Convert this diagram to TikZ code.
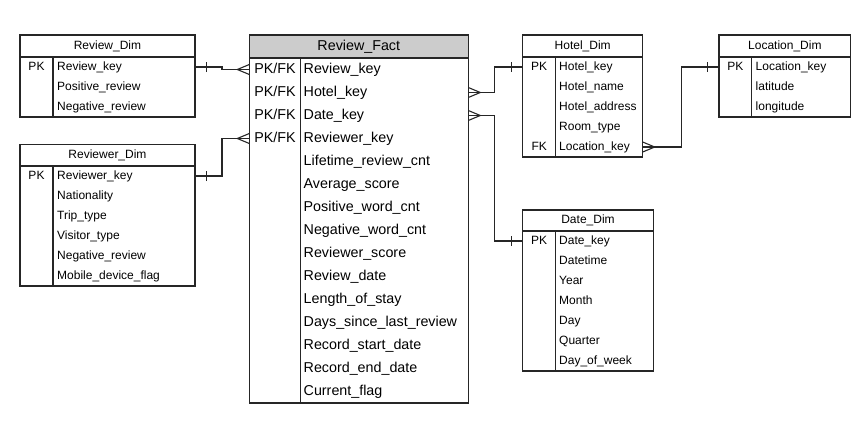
\documentclass[tikz,border=0pt]{standalone}
\usepackage{fontspec}
\setmainfont{Liberation Sans}
\usetikzlibrary{decorations.markings}
\definecolor{LineGray}{HTML}{262626}
\definecolor{HeadGray}{HTML}{CCCCCC}
\newcommand{\dimfont}{\fontsize{12}{14}\selectfont}
\newcommand{\factfont}{\fontsize{14.3}{17}\selectfont}

\tikzset{
  tab/.style={draw=LineGray, line width=1.1pt, outer sep=0pt, inner sep=0pt, anchor=north west},
  head/.style={tab, fill=HeadGray},
  col/.style={inner sep=0pt, anchor=west},
  key/.style={inner sep=0pt, anchor=center},
  dimtext/.style={font=\dimfont, text height=9pt, text depth=3pt},
  facttext/.style={font=\factfont, text height=10.5pt, text depth=3.5pt},
  sep/.style={draw=LineGray, line width=1.1pt},
  link/.style={draw=LineGray, line width=1.1pt, postaction={decorate},
    decoration={markings,
      mark=at position 11.5pt with {\draw[LineGray, line width=1.1pt] (0,-5pt) -- (0,5pt);},
      mark=at position 1 with {\draw[LineGray, line width=1.1pt] (-12pt,0) -- (0,5pt) (-12pt,0) -- (0,-5pt);}}},
}

\begin{document}
\begin{tikzpicture}[x=1pt, y=-1pt]
        \useasboundingbox (0,0) rectangle (867,437);

        % Review_Dim
        \node[tab, minimum width=175pt, minimum height=22pt, dimtext] (rdhead) at (20,35) {Review\_Dim};
        \node[tab, minimum width=175pt, minimum height=60pt] (rdbody) at (20,57) {};
        \draw[sep] (53,57) -- (53,117);
        \node[key, dimtext] (rdpk) at (36.5,67) {PK};
        \node[col, dimtext] (rd1) at (57,67) {Review\_key};
        \node[col, dimtext] (rd2) at (57,87) {Positive\_review};
        \node[col, dimtext] (rd3) at (57,107) {Negative\_review};

        % Reviewer_Dim
        \node[tab, minimum width=175pt, minimum height=21.7pt, dimtext] (rvhead) at (20,144.3) {Reviewer\_Dim};
        \node[tab, minimum width=175pt, minimum height=120pt] (rvbody) at (20,166) {};
        \draw[sep] (53,166) -- (53,286);
        \node[key, dimtext] (rvpk) at (36.5,176) {PK};
        \node[col, dimtext] (rv1) at (57,176) {Reviewer\_key};
        \node[col, dimtext] (rv2) at (57,196) {Nationality};
        \node[col, dimtext] (rv3) at (57,216) {Trip\_type};
        \node[col, dimtext] (rv4) at (57,236) {Visitor\_type};
        \node[col, dimtext] (rv5) at (57,256) {Negative\_review};
        \node[col, dimtext] (rv6) at (57,276) {Mobile\_device\_flag};

        % Review_Fact
        \node[head, minimum width=219pt, minimum height=23pt, facttext] (rfhead) at (249.3,35) {Review\_Fact};
        \node[tab, minimum width=219pt, minimum height=345pt] (rfbody) at (249.3,58) {};
        \draw[sep] (300.7,58) -- (300.7,403);
        \node[key, facttext] (rfpk1) at (275,69.5) {PK/FK};
        \node[key, facttext] (rfpk2) at (275,92.5) {PK/FK};
        \node[key, facttext] (rfpk3) at (275,115.5) {PK/FK};
        \node[key, facttext] (rfpk4) at (275,138.5) {PK/FK};
        \node[col, facttext] (rf1) at (303.5,69.5) {Review\_key};
        \node[col, facttext] (rf2) at (303.5,92.5) {Hotel\_key};
        \node[col, facttext] (rf3) at (303.5,115.5) {Date\_key};
        \node[col, facttext] (rf4) at (303.5,138.5) {Reviewer\_key};
        \node[col, facttext] (rf5) at (303.5,161.5) {Lifetime\_review\_cnt};
        \node[col, facttext] (rf6) at (303.5,184.5) {Average\_score};
        \node[col, facttext] (rf7) at (303.5,207.5) {Positive\_word\_cnt};
        \node[col, facttext] (rf8) at (303.5,230.5) {Negative\_word\_cnt};
        \node[col, facttext] (rf9) at (303.5,253.5) {Reviewer\_score};
        \node[col, facttext] (rf10) at (303.5,276.5) {Review\_date};
        \node[col, facttext] (rf11) at (303.5,299.5) {Length\_of\_stay};
        \node[col, facttext] (rf12) at (303.5,322.5) {Days\_since\_last\_review};
        \node[col, facttext] (rf13) at (303.5,345.5) {Record\_start\_date};
        \node[col, facttext] (rf14) at (303.5,368.5) {Record\_end\_date};
        \node[col, facttext] (rf15) at (303.5,391.5) {Current\_flag};

        % Hotel_Dim
        \node[tab, minimum width=120pt, minimum height=22pt, dimtext] (hdhead) at (522.7,35) {Hotel\_Dim};
        \node[tab, minimum width=120pt, minimum height=100pt] (hdbody) at (522.7,57) {};
        \draw[sep] (555.7,57) -- (555.7,157);
        \node[key, dimtext] (hdpk) at (539.2,67) {PK};
        \node[key, dimtext] (hdfk) at (539.2,147) {FK};
        \node[col, dimtext] (hd1) at (559,67) {Hotel\_key};
        \node[col, dimtext] (hd2) at (559,87) {Hotel\_name};
        \node[col, dimtext] (hd3) at (559,107) {Hotel\_address};
        \node[col, dimtext] (hd4) at (559,127) {Room\_type};
        \node[col, dimtext] (hd5) at (559,147) {Location\_key};

        % Location_Dim
        \node[tab, minimum width=131.7pt, minimum height=22pt, dimtext] (ldhead) at (719,35) {Location\_Dim};
        \node[tab, minimum width=131.7pt, minimum height=60pt] (ldbody) at (719,57) {};
        \draw[sep] (751.7,57) -- (751.7,117);
        \node[key, dimtext] (ldpk) at (735.3,67) {PK};
        \node[col, dimtext] (ld1) at (755.5,67) {Location\_key};
        \node[col, dimtext] (ld2) at (755.5,87) {latitude};
        \node[col, dimtext] (ld3) at (755.5,107) {longitude};

        % Date_Dim
        \node[tab, minimum width=130.6pt, minimum height=21pt, dimtext] (ddhead) at (522.7,210) {Date\_Dim};
        \node[tab, minimum width=130.6pt, minimum height=140pt] (ddbody) at (522.7,231) {};
        \draw[sep] (555.7,231) -- (555.7,371);
        \node[key, dimtext] (ddpk) at (539.2,241) {PK};
        \node[col, dimtext] (dd1) at (559,241) {Date\_key};
        \node[col, dimtext] (dd2) at (559,261) {Datetime};
        \node[col, dimtext] (dd3) at (559,281) {Year};
        \node[col, dimtext] (dd4) at (559,301) {Month};
        \node[col, dimtext] (dd5) at (559,321) {Day};
        \node[col, dimtext] (dd6) at (559,341) {Quarter};
        \node[col, dimtext] (dd7) at (559,361) {Day\_of\_week};

        % relations: one side first, many side last
        \draw[link] (rdbody.east |- rd1) -- ++(27,0) |- (rfbody.west |- rf1);
        \draw[link] (rvbody.east |- rv1) -- ++(27,0) |- (rfbody.west |- rf4);
        \draw[link] (hdbody.west |- hd1) -- ++(-28,0) |- (rfbody.east |- rf2);
        \draw[link] (ddbody.west |- dd1) -- ++(-28,0) |- (rfbody.east |- rf3);
        \draw[link] (ldbody.west |- ld1) -- ++(-37.5,0) |- (hdbody.east |- hd5);
\end{tikzpicture}
\end{document}
